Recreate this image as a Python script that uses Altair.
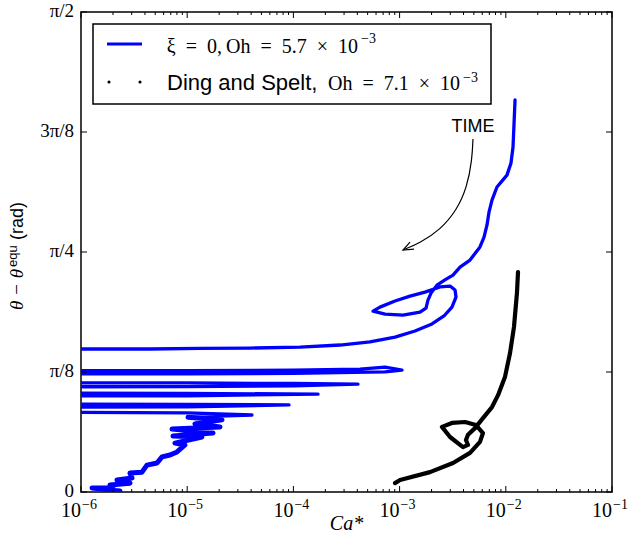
import math
import altair as alt
import pandas as pd

# ---- data: log10(Ca*) and theta - theta_equ (rad) ----
blue_logca = [
    -1.913, -1.923, -1.932, -1.951, -1.989, -2.083, -2.130, -2.158, -2.177, -2.205,
    -2.243, -2.337, -2.431, -2.497, -2.573, -2.648, -2.704, -2.733, -2.751, -2.808,
    -2.968, -3.137, -3.250, -3.185, -3.043, -2.902, -2.761, -2.620, -2.525, -2.478,
    -2.469, -2.507, -2.582, -2.695, -2.855, -3.043, -3.279, -3.561, -3.938, -4.409,
    -4.879, -5.350, -5.821, -7.0,
    -7.0, -5.0, -4.0, -3.373, -3.137, -3.043, -2.977, -3.137, -4.0, -5.0, -7.0,
    -7.0, -5.0, -4.0, -3.392, -4.0, -5.0, -7.0,
    -7.0, -5.0, -3.768, -5.0, -7.0,
    -7.0, -5.0, -4.041, -5.0, -7.0,
    -7.0, -5.0, -4.390, -4.700, -4.992,
]
blue_theta = [
    1.283, 1.201, 1.129, 1.077, 1.037, 0.998, 0.955, 0.916, 0.874, 0.834,
    0.802, 0.759, 0.736, 0.710, 0.694, 0.677, 0.651, 0.628, 0.602, 0.589,
    0.579, 0.582, 0.592, 0.605, 0.625, 0.641, 0.654, 0.671, 0.674, 0.661,
    0.638, 0.605, 0.576, 0.550, 0.527, 0.507, 0.491, 0.481, 0.474, 0.471,
    0.470, 0.468, 0.468, 0.468,
    0.397, 0.397, 0.399, 0.402, 0.409, 0.403, 0.399, 0.393, 0.388, 0.387, 0.386,
    0.357, 0.357, 0.355, 0.353, 0.347, 0.345, 0.344,
    0.324, 0.323, 0.320, 0.315, 0.314,
    0.288, 0.287, 0.285, 0.279, 0.276,
    0.262, 0.259, 0.252, 0.248, 0.245,
]
# late-time tail (thicker, wiggly part near the origin)
blue_tail_logca = [
    -4.992, -4.672, -4.927, -4.691, -5.143, -4.757, -5.134, -4.861, -5.115, -5.021,
    -5.096, -5.162, -5.237, -5.284, -5.379, -5.426, -5.539, -5.520, -5.661, -5.539,
    -5.727, -5.699, -5.896, -5.633,
]
blue_tail_theta = [
    0.245, 0.236, 0.223, 0.213, 0.206, 0.193, 0.183, 0.180, 0.160, 0.154,
    0.131, 0.121, 0.115, 0.095, 0.088, 0.065, 0.062, 0.046, 0.039, 0.029,
    0.023, 0.013, 0.013, 0.003,
]

black_logca = [
    -1.885, -1.895, -1.923, -1.960, -2.008, -2.073, -2.130, -2.215, -2.290, -2.356,
    -2.375, -2.356, -2.403, -2.525, -2.601, -2.507, -2.384, -2.281,
    -2.215, -2.243, -2.337, -2.497, -2.714, -2.996, -3.043,
]
black_theta = [
    0.720, 0.651, 0.540, 0.455, 0.376, 0.317, 0.278, 0.242, 0.209, 0.187,
    0.170, 0.154, 0.147, 0.180, 0.213, 0.226, 0.229, 0.219,
    0.193, 0.164, 0.128, 0.095, 0.065, 0.039, 0.029,
]

arrow_logca = [-2.309, -2.318, -2.365, -2.460, -2.620, -2.808, -2.968]
arrow_theta = [1.155, 1.086, 0.998, 0.923, 0.857, 0.815, 0.792]
head_logca = [-2.902, -2.968, -2.864]
head_theta = [0.818, 0.792, 0.795]
time_logca = [-2.309]
time_theta = [1.194]

major_exp = [-6, -5, -4, -3, -2, -1]
minor_mult = [2, 3, 4, 5, 6, 7, 8, 9]
ytick_labels = ["0", "π/8", "π/4", "3π/8", "π/2"]
ytick_vals = [k * math.pi / 8 for k in range(5)]

W, H = 531, 480
SERIF = "Liberation Serif"
SANS = "Liberation Sans"


def frame(logs, thetas):
    return pd.DataFrame({"x": [10 ** v for v in logs], "y": thetas, "i": list(range(len(logs)))})


xscale = alt.Scale(type="log", domain=[1e-6, 1e-1], nice=False)
yscale = alt.Scale(domain=[0, math.pi / 2], nice=False, zero=False)
X = alt.X("x:Q", scale=xscale, axis=None)
Y = alt.Y("y:Q", scale=yscale, axis=None)
one = pd.DataFrame({"a": [0]})

blue = alt.Chart(frame(blue_logca, blue_theta)).mark_line(
    color="#0000ff", strokeWidth=3.3, clip=True, strokeJoin="round", strokeCap="round"
).encode(X, Y, order="i:Q")
blue_tail = alt.Chart(frame(blue_tail_logca, blue_tail_theta)).mark_line(
    color="#0000ff", strokeWidth=5, clip=True, strokeJoin="round", strokeCap="round"
).encode(X, Y, order="i:Q")

black = alt.Chart(frame(black_logca, black_theta)).mark_line(
    color="black", strokeWidth=4.2, clip=True, strokeJoin="round", strokeCap="round"
).encode(X, Y, order="i:Q")

arrow = alt.Chart(frame(arrow_logca, arrow_theta)).mark_line(
    color="black", strokeWidth=1.2, interpolate="basis"
).encode(X, Y, order="i:Q")
head = alt.Chart(frame(head_logca, head_theta)).mark_line(
    color="black", strokeWidth=1.2
).encode(X, Y, order="i:Q")
time_txt = alt.Chart(frame(time_logca, time_theta)).mark_text(
    text="TIME", font=SANS, fontSize=18, align="center", baseline="middle", color="black"
).encode(X, Y)

# ---- ticks (inward, on all sides) ----
major_df = pd.DataFrame({"x": [10.0 ** e for e in major_exp],
                         "lab": ["−%d" % abs(e) for e in major_exp]})
minor_df = pd.DataFrame({"x": [m * 10.0 ** e for e in major_exp[:-1] for m in minor_mult]})
ytick_df = pd.DataFrame({"y": ytick_vals, "lab": ytick_labels})

tick_layers = []
for y0, y1 in [(H, H - 6), (0, 6)]:
    tick_layers.append(alt.Chart(major_df).mark_rule(color="black", strokeWidth=1).encode(
        x=X, y=alt.value(y0), y2=alt.value(y1)))
for y0, y1 in [(H, H - 3), (0, 3)]:
    tick_layers.append(alt.Chart(minor_df).mark_rule(color="black", strokeWidth=1).encode(
        x=X, y=alt.value(y0), y2=alt.value(y1)))
for x0, x1 in [(0, 6), (W, W - 6)]:
    tick_layers.append(alt.Chart(ytick_df).mark_rule(color="black", strokeWidth=1).encode(
        y=Y, x=alt.value(x0), x2=alt.value(x1)))

xlab10 = alt.Chart(major_df).mark_text(
    text="10", font=SERIF, fontSize=20, align="right", baseline="alphabetic", color="black"
).encode(x=X, y=alt.value(505))
xlabexp = alt.Chart(major_df).mark_text(
    font=SERIF, fontSize=14, align="left", baseline="alphabetic", dx=1, color="black"
).encode(x=X, y=alt.value(497), text="lab:N")
ylab = alt.Chart(ytick_df).mark_text(
    font=SERIF, fontSize=19, align="right", baseline="middle", color="black", dy=-1
).encode(y=Y, x=alt.value(-7), text="lab:N")

# ---- axis titles ----
xtitle = alt.Chart(one).mark_text(
    text="Ca*", font=SERIF, fontStyle="italic", fontSize=20, align="center", baseline="alphabetic"
).encode(x=alt.value(W / 2), y=alt.value(518))
yt1 = alt.Chart(one).mark_text(
    text="θ − θ", font=SERIF, fontStyle="italic", fontSize=19, angle=270, align="left", baseline="alphabetic"
).encode(x=alt.value(-58), y=alt.value(298))
yt2 = alt.Chart(one).mark_text(
    text="equ", font=SANS, fontSize=13, angle=270, align="left", baseline="alphabetic"
).encode(x=alt.value(-64), y=alt.value(255))
yt3 = alt.Chart(one).mark_text(
    text="(rad)", font=SANS, fontSize=18, angle=270, align="left", baseline="alphabetic"
).encode(x=alt.value(-58), y=alt.value(228))

# ---- legend ----
leg_box = alt.Chart(one).mark_rect(fill="white", stroke="black", strokeWidth=1.5).encode(
    x=alt.value(12), x2=alt.value(410), y=alt.value(12), y2=alt.value(92))
leg_line = alt.Chart(one).mark_rule(color="#0000ff", strokeWidth=3).encode(
    x=alt.value(26), x2=alt.value(61), y=alt.value(32))
leg_dots = alt.Chart(pd.DataFrame({"px": [28, 59]})).mark_circle(color="black", size=10, opacity=1).encode(
    x=alt.X("px:Q", scale=None), y=alt.value(70))
leg_t1 = alt.Chart(one).mark_text(
    text="ξ\u2002=\u20020,\u2009Oh\u2002=\u20025.7\u2002×\u200210", font=SERIF, fontSize=20,
    align="right", baseline="alphabetic").encode(x=alt.value(277), y=alt.value(41))
leg_e1 = alt.Chart(one).mark_text(
    text="−3", font=SERIF, fontSize=14, align="left", baseline="alphabetic").encode(
    x=alt.value(280), y=alt.value(31))
leg_t2a = alt.Chart(one).mark_text(
    text="Ding and Spelt,", font=SANS, fontSize=22, align="left", baseline="alphabetic").encode(
    x=alt.value(86), y=alt.value(78))
leg_t2b = alt.Chart(one).mark_text(
    text="Oh\u2002=\u20027.1\u2002×\u200210", font=SERIF, fontSize=20,
    align="right", baseline="alphabetic").encode(x=alt.value(379), y=alt.value(78))
leg_e2 = alt.Chart(one).mark_text(
    text="−3", font=SERIF, fontSize=14, align="left", baseline="alphabetic").encode(
    x=alt.value(382), y=alt.value(70))

chart = alt.layer(
    blue, blue_tail, black, arrow, head, time_txt,
    *tick_layers, xlab10, xlabexp, ylab, xtitle, yt1, yt2, yt3,
    leg_box, leg_line, leg_dots, leg_t1, leg_e1, leg_t2a, leg_t2b, leg_e2,
).properties(
    width=W, height=H,
    padding={"left": 81, "top": 12, "right": 18, "bottom": 51},
    autosize=alt.AutoSizeParams(type="none"),
    background="white",
).configure_view(stroke="black", strokeWidth=1.5)

chart.save("out.html", embed_options={"renderer": "svg", "actions": False})
